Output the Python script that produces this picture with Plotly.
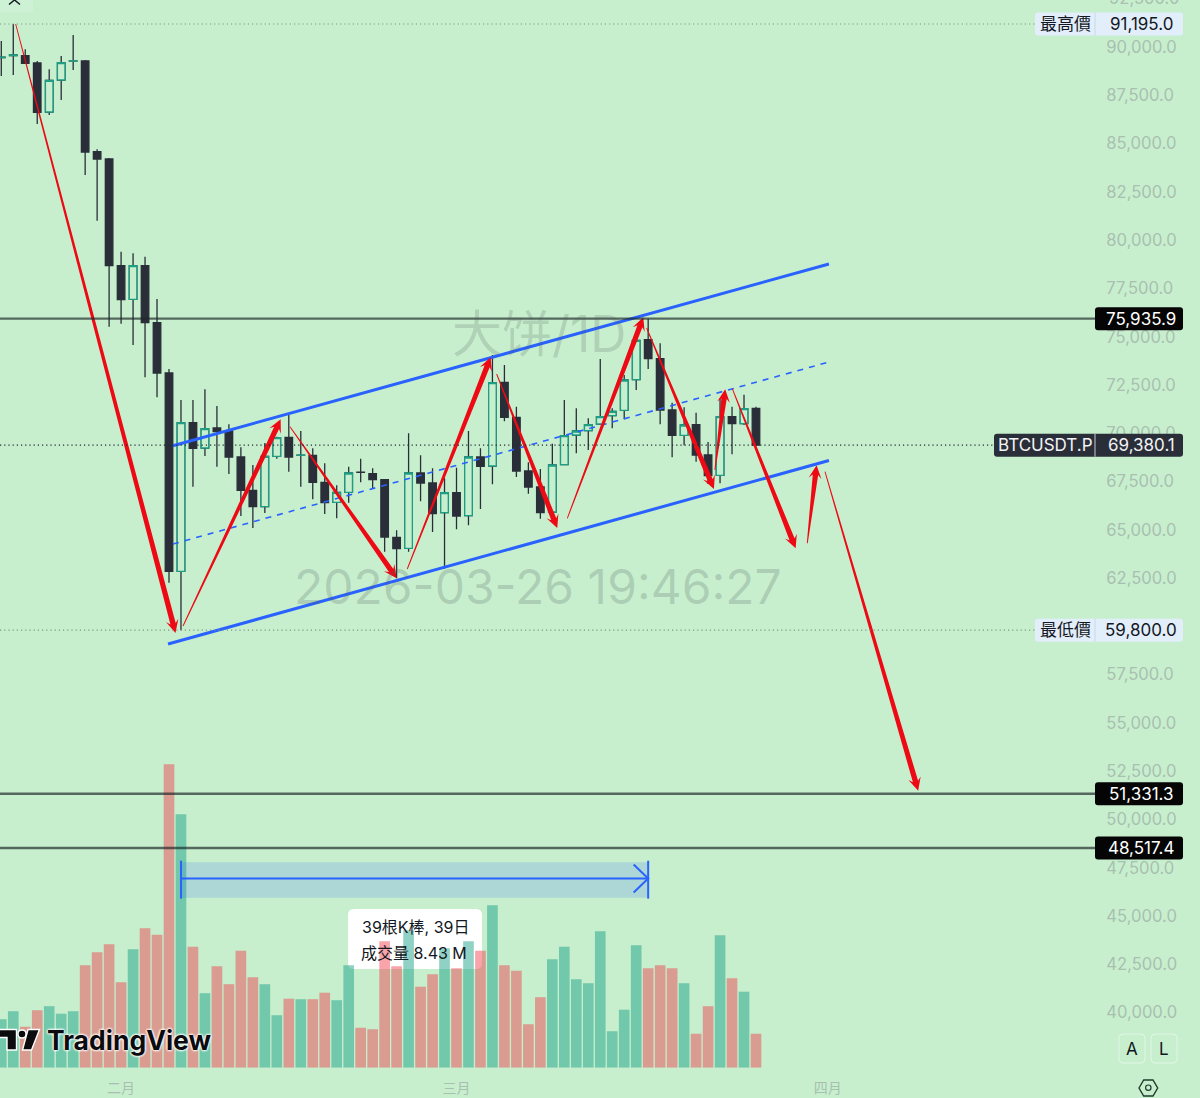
import pandas as pd
import plotly.graph_objects as go

# BTCUSDT.P daily candles
first_day = pd.Timestamp("2026-01-22")
opens = [89460, 89560, 89553, 89175, 86638, 88295, 89270, 89279, 84581, 84203, 78677, 76937, 78677, 75725, 73120, 62850,
         70546, 69236, 70272, 70116, 68770, 67045, 66196, 68806, 69790, 68850, 68858, 67460, 66424, 66942, 67985, 67905,
         67594, 64611, 64042, 67941, 67423, 65885, 66921, 65730, 68770, 68304, 72639, 70826, 68045, 67216, 65922, 68371,
         69909, 70132, 70479, 70909, 71188, 72773, 74845, 73861, 71204, 69894, 70443, 68874, 67822, 70857, 70495, 71292]
highs = [90315, 91195, 89885, 89279, 88849, 89538, 90625, 89331, 84706, 84255, 79402, 79320, 79144, 76953, 73327, 71722,
         71722, 72276, 71411, 70464, 69272, 68356, 69495, 69821, 70945, 70116, 69220, 68444, 67304, 68268, 68682, 68185,
         67631, 64974, 69997, 68858, 68185, 67667, 68216, 70116, 69220, 74053, 73535, 71375, 68496, 68148, 69459, 71722,
         71292, 70774, 73845, 71292, 73017, 74933, 75936, 74658, 71582, 71344, 71064, 69547, 71800, 71375, 71997, 71375]
lows = [88502, 88554, 89160, 86016, 86482, 87259, 88813, 83375, 81008, 75518, 75674, 74570, 72898, 71862, 62260, 59800,
        67232, 68822, 68268, 67890, 65714, 65093, 65870, 68682, 68008, 67232, 66579, 65818, 65595, 66403, 67460, 67113,
        63866, 62488, 63866, 66476, 64886, 62985, 65025, 65233, 66077, 67356, 70619, 67734, 66869, 65574, 65885, 68371,
        68961, 69132, 70427, 70256, 70722, 72240, 73327, 70464, 68754, 69376, 68527, 67372, 67408, 68910, 70427, 69376]
closes = [89480, 89590, 89160, 86622, 88279, 89191, 89290, 84566, 84203, 78677, 76917, 78677, 75725, 73120, 62850, 70546,
          69220, 70236, 70080, 68770, 67045, 66196, 68806, 69770, 68770, 68870, 67460, 66403, 66942, 67941, 67970, 67594,
          64627, 64021, 67941, 67423, 65834, 66921, 65714, 68770, 68288, 72618, 70826, 68045, 67216, 65885, 68356, 69873,
          70116, 70443, 70857, 71137, 72758, 74814, 73861, 71204, 69894, 70427, 68874, 67801, 70857, 70495, 71271, 69380]
# in thousands
volumes = [97, 113, 82, 115, 123, 108, 113, 205, 231, 247, 171, 237, 279, 266, 607, 507,
           242, 149, 203, 167, 234, 181, 167, 105, 138, 137, 137, 150, 135, 205, 80, 77,
           253, 203, 275, 162, 187, 239, 199, 253, 234, 325, 205, 194, 87, 141, 217, 242,
           177, 169, 273, 73, 116, 245, 199, 205, 199, 169, 68, 123, 265, 179, 152, 68]

price_ticks = [40000 + 2500 * i for i in range(21)]
month_ticks = ["2026-02-01", "2026-03-01", "2026-04-01"]
month_labels = ["二月", "三月", "四月"]

high_price = 91195.0
low_price = 59800.0
last_price = 69380.1
levels = [75935.9, 51331.3, 48517.4]

# channel lines: bar index, price
upper_bars, upper_prices = [14.33, 69.09], [69355, 78765]
middle_bars, middle_prices = [14.33, 69.09], [64264, 73690]
lower_bars, lower_prices = [13.92, 69.09], [59085, 68589]

# red arrows, tail to tip: bar index, price
arrow_bars = [(1.20, 14.54), (15.17, 23.32), (24.10, 33.00), (33.89, 40.85), (41.35, 46.41), (47.25, 53.59),
              (53.87, 59.49), (59.57, 60.43), (61.02, 66.31), (67.28, 68.06), (68.76, 76.54)]
arrow_prices = [(91195, 59655), (60018, 70722), (70339, 62488), (62970, 73933), (73068, 65093), (65595, 76005),
                (75451, 67113), (68097, 72276), (72307, 64042), (64300, 68340), (68008, 51488)]

# date range tool
span_bars = [15, 54]
span_band = [45949, 47779]
span_mid = 46940
span_caps = [45898, 47862]

BG = "#c7efce"
DARK = "#2a2e39"
TEAL = "#1e9e85"
RED = "#ee0a14"
BLUE = "#2962ff"
AXIS_TEXT = "#a9bfb0"
FONT = "Inter, Noto Sans CJK TC, sans-serif"

WIDTH, HEIGHT = 1200, 1098
PLOT_W, PLOT_H = 1095, 1075
BAR_PX = 11.98
PRICE_PER_PX = 51.79
PRICE_TOP = 92438
PRICE_BOTTOM = PRICE_TOP - PRICE_PER_PX * PLOT_H


def bar_date(i):
    return (first_day + pd.Timedelta(days=i)).isoformat()


def poly_path(points, close=True):
    # y goes up in pixel-sized shapes, points are given in screen pixels
    path = "M" + "L".join(f"{x:.1f},{-y:.1f}" for x, y in points)
    return path + ("Z" if close else "")


def round_path(x0, y0, x1, y1, r=4):
    y0, y1 = -y0, -y1
    return (f"M{x0 + r},{y0}L{x1 - r},{y0}Q{x1},{y0} {x1},{y0 - r}L{x1},{y1 + r}Q{x1},{y1} {x1 - r},{y1}"
            f"L{x0 + r},{y1}Q{x0},{y1} {x0},{y1 + r}L{x0},{y0 - r}Q{x0},{y0} {x0 + r},{y0}Z")


def px_shape(path, **style):
    return dict(type="path", xref="paper", yref="paper", xsizemode="pixel", ysizemode="pixel",
                xanchor=0, yanchor=1, path=path, **style)


def tag_shape(price, x0, x1, fill):
    return dict(type="path", xref="paper", yref="y", xsizemode="pixel", ysizemode="pixel",
                xanchor=0, yanchor=price, path=round_path(x0, -11.5, x1, 11.5, 3),
                fillcolor=fill, line=dict(width=0))


def tag_text(price, x, text, color):
    return dict(xref="paper", yref="y", x=x / PLOT_W, y=price, text=text, showarrow=False,
                xanchor="center", yanchor="middle", font=dict(family=FONT, size=17, color=color))


def px_text(x, y, text, size, color, **extra):
    return dict(xref="paper", yref="paper", x=x / PLOT_W, y=1 - y / PLOT_H, text=text, showarrow=False,
                xanchor=extra.pop("xanchor", "center"), yanchor="middle",
                font=dict(family=FONT, size=size, color=color, **extra))


def arrow_xy(bars, prices, tail=0.9, neck=5.4, barb=6.4, head=13.0):
    x0, x1 = bars[0] * BAR_PX, bars[1] * BAR_PX
    y0, y1 = -prices[0] / PRICE_PER_PX, -prices[1] / PRICE_PER_PX
    length = ((x1 - x0) ** 2 + (y1 - y0) ** 2) ** 0.5
    ux, uy = (x1 - x0) / length, (y1 - y0) / length
    nx, ny = -uy, ux
    neck_x, neck_y = x1 - ux * (head - 3.5), y1 - uy * (head - 3.5)
    barb_x, barb_y = x1 - ux * head, y1 - uy * head
    outline = [
        (x0 + nx * tail / 2, y0 + ny * tail / 2),
        (neck_x + nx * neck / 2, neck_y + ny * neck / 2),
        (barb_x + nx * barb, barb_y + ny * barb),
        (x1, y1),
        (barb_x - nx * barb, barb_y - ny * barb),
        (neck_x - nx * neck / 2, neck_y - ny * neck / 2),
        (x0 - nx * tail / 2, y0 - ny * tail / 2),
    ]
    xs = [bar_date(px / BAR_PX) for px, _ in outline]
    ys = [-py * PRICE_PER_PX for _, py in outline]
    return xs, ys


dates = [bar_date(i) for i in range(len(opens))]
up = [i for i in range(len(opens)) if closes[i] >= opens[i]]
vol_colors = ["rgba(8,153,129,0.45)" if c >= o else "rgba(242,54,69,0.45)" for o, c in zip(opens, closes)]

fig = go.Figure()

# wicks and dark bodies
fig.add_trace(go.Candlestick(
    x=dates, open=opens, high=highs, low=lows, close=closes,
    increasing=dict(line=dict(color=DARK, width=1.3), fillcolor=DARK),
    decreasing=dict(line=dict(color=DARK, width=1.3), fillcolor=DARK),
    showlegend=False,
))
# hollow teal bodies on top, the wick stays dark
fig.add_trace(go.Candlestick(
    x=[dates[i] for i in up],
    open=[opens[i] for i in up], high=[closes[i] for i in up],
    low=[opens[i] for i in up], close=[closes[i] for i in up],
    increasing=dict(line=dict(color=TEAL, width=1.3), fillcolor=BG),
    showlegend=False,
))

fig.add_trace(go.Bar(x=dates, y=volumes, yaxis="y2", marker=dict(color=vol_colors, line=dict(width=0)),
                     showlegend=False))

for bars, prices, width, dash in [
    (upper_bars, upper_prices, 3, "solid"),
    (lower_bars, lower_prices, 3, "solid"),
    (middle_bars, middle_prices, 1.6, "6px,6px"),
]:
    fig.add_trace(go.Scatter(x=[bar_date(b) for b in bars], y=prices, mode="lines",
                             line=dict(color=BLUE, width=width, dash=dash), showlegend=False))

for bars, prices in zip(arrow_bars, arrow_prices):
    xs, ys = arrow_xy(bars, prices)
    fig.add_trace(go.Scatter(x=xs, y=ys, mode="lines", fill="toself", fillcolor=RED,
                             line=dict(width=0, color=RED), showlegend=False))

shapes = [
    # tooltip box sits under the translucent volume bars
    px_shape(round_path(348, 909, 482, 969, 6), fillcolor="#ffffff", line=dict(width=0), layer="below"),
    px_shape(round_path(0, -3, 33, 12, 2), fillcolor="rgba(255,255,255,0.12)", line=dict(width=0)),
    px_shape(poly_path([(9, 4.5), (14.5, 0), (20, 4.5)], close=False), line=dict(color="#131722", width=1.5)),
]

for price, x1, color in [(high_price, 1035, "#7f9685"), (low_price, 1035, "#7f9685"), (last_price, 994, "#222831")]:
    shapes.append(dict(type="line", xref="paper", yref="y", x0=0, x1=x1 / PLOT_W, y0=price, y1=price,
                       line=dict(color=color, width=1.2, dash="1.2px,3px")))
for price in levels:
    shapes.append(dict(type="line", xref="paper", yref="y", x0=0, x1=1, y0=price, y1=price,
                       line=dict(color="rgba(30,40,40,0.68)", width=2.4)))

# date range tool
shapes += [
    dict(type="rect", xref="x", yref="y", x0=bar_date(span_bars[0]), x1=bar_date(span_bars[1]),
         y0=span_band[0], y1=span_band[1], fillcolor="rgba(41,98,255,0.17)", line=dict(width=0)),
    dict(type="line", xref="x", yref="y", x0=bar_date(span_bars[0]), x1=bar_date(span_bars[1]),
         y0=span_mid, y1=span_mid, line=dict(color=BLUE, width=2)),
]
for b in span_bars:
    shapes.append(dict(type="line", xref="x", yref="y", x0=bar_date(b), x1=bar_date(b),
                       y0=span_caps[0], y1=span_caps[1], line=dict(color=BLUE, width=2)))
shapes.append(dict(type="path", xref="x", yref="y", xsizemode="pixel", ysizemode="pixel",
                   xanchor=bar_date(span_bars[1]), yanchor=span_mid,
                   path=poly_path([(-14.5, -14), (0, 0), (-14.5, 14)], close=False),
                   line=dict(color=BLUE, width=2)))

# price tags on the right
shapes += [
    tag_shape(high_price, 1035, 1183, "#e3eefb"),
    tag_shape(low_price, 1035, 1183, "#e3eefb"),
    tag_shape(last_price, 994, 1183, DARK),
]
for price in levels:
    shapes.append(tag_shape(price, 1095, 1183, "#050505"))
for price, color in [(high_price, "#c8d8e6"), (low_price, "#c8d8e6"), (last_price, "#c5cad3")]:
    shapes.append(dict(type="line", xref="paper", yref="y", x0=1, x1=1, ysizemode="pixel", yanchor=price,
                       y0=-11.5, y1=11.5, line=dict(color=color, width=1)))

# A / L buttons and settings hexagon
shapes += [
    px_shape(round_path(1119, 1034, 1145, 1063, 4), line=dict(color="rgba(255,255,255,0.45)", width=1)),
    px_shape(round_path(1151, 1034, 1177, 1063, 4), line=dict(color="rgba(255,255,255,0.45)", width=1)),
    px_shape(poly_path([(1139, 1088), (1143.7, 1080), (1153, 1080), (1157.7, 1088), (1153, 1096), (1143.7, 1096)]),
             line=dict(color="#1f3b2b", width=1.4)),
    px_shape(round_path(1145.6, 1085, 1151, 1090.4, 2.7), line=dict(color="#1f3b2b", width=1.2)),
]

# TradingView logo
logo_line = dict(color="#ffffff", width=1.4)
shapes += [
    px_shape(poly_path([(-3, 1029.5), (16.5, 1029.5), (16.5, 1050), (7, 1050), (7, 1037.5), (-3, 1037.5)]),
             fillcolor="#0b0b0d", line=logo_line),
    px_shape(round_path(18, 1030, 26, 1038, 4), fillcolor="#0b0b0d", line=logo_line),
    px_shape(poly_path([(28, 1029.5), (39.5, 1029.5), (31.5, 1050), (22.5, 1050)]),
             fillcolor="#0b0b0d", line=logo_line),
]

annotations = [
    px_text(1107, -1.5, "92,500.0", 16.6, AXIS_TEXT, xanchor="left"),
    px_text(539, 334, "大饼/1D", 50, "rgba(80,90,90,0.2)"),
    px_text(538, 586, "2026-03-26 19:46:27", 48, "rgba(80,90,90,0.22)"),
    px_text(415, 926.5, "39根K棒, 39日", 16, "#131722"),
    px_text(414, 953, "成交量 8.43 M", 16, "#131722"),
    px_text(45, 1040, "<b>TradingView</b>", 26.5, "#0b0b0d", xanchor="left",
            shadow="0 0 2px #fff, 0 0 2px #fff, 0 0 3px #fff, 0 0 3px #fff"),
    px_text(1132, 1049, "A", 17, "#131722"),
    px_text(1164, 1049, "L", 17, "#131722"),
    tag_text(high_price, 1065, "最高價", "#131722"),
    tag_text(high_price, 1141, f"{high_price:,.1f}", "#131722"),
    tag_text(low_price, 1065, "最低價", "#131722"),
    tag_text(low_price, 1141, f"{low_price:,.1f}", "#131722"),
    tag_text(last_price, 1045, "BTCUSDT.P", "#f2f3f5"),
    tag_text(last_price, 1141, f"{last_price:,.1f}", "#f2f3f5"),
]
for price in levels:
    annotations.append(tag_text(price, 1141, f"{price:,.1f}", "#ffffff"))

fig.update_layout(
    width=WIDTH,
    height=HEIGHT,
    margin=dict(l=0, r=WIDTH - PLOT_W, t=0, b=HEIGHT - PLOT_H, pad=0),
    paper_bgcolor=BG,
    # a filled plot area on the volume axes would hide the candles
    plot_bgcolor="rgba(0,0,0,0)",
    font=dict(family=FONT, size=16, color=AXIS_TEXT),
    bargap=0.11,
    boxmode="overlay",
    boxgap=0.1,
    showlegend=False,
    shapes=shapes,
    annotations=annotations,
    xaxis=dict(
        type="date",
        range=[bar_date(-0.108), bar_date(91.3)],
        rangeslider=dict(visible=False),
        showgrid=False,
        zeroline=False,
        showline=False,
        tickmode="array",
        tickvals=month_ticks,
        ticktext=month_labels,
        ticks="",
        ticklabelstandoff=3,
        tickfont=dict(family=FONT, size=14, color=AXIS_TEXT),
    ),
    yaxis=dict(
        side="right",
        range=[PRICE_BOTTOM, PRICE_TOP],
        showgrid=False,
        zeroline=False,
        showline=False,
        tickmode="array",
        tickvals=price_ticks,
        tickformat=",.1f",
        ticks="outside",
        ticklen=7,
        tickcolor="rgba(0,0,0,0)",
        tickfont=dict(family=FONT, size=16.6, color=AXIS_TEXT),
    ),
    yaxis2=dict(
        domain=[(PLOT_H - 1067.7) / PLOT_H, 1],
        range=[0, 1067.7 * 2],
        anchor="x",
        visible=False,
    ),
)

# the browser's default body margin would push the chart 8px off the reference
fig.write_html("out.html", config=dict(displayModeBar=False), post_script="document.body.style.margin = '0';")
